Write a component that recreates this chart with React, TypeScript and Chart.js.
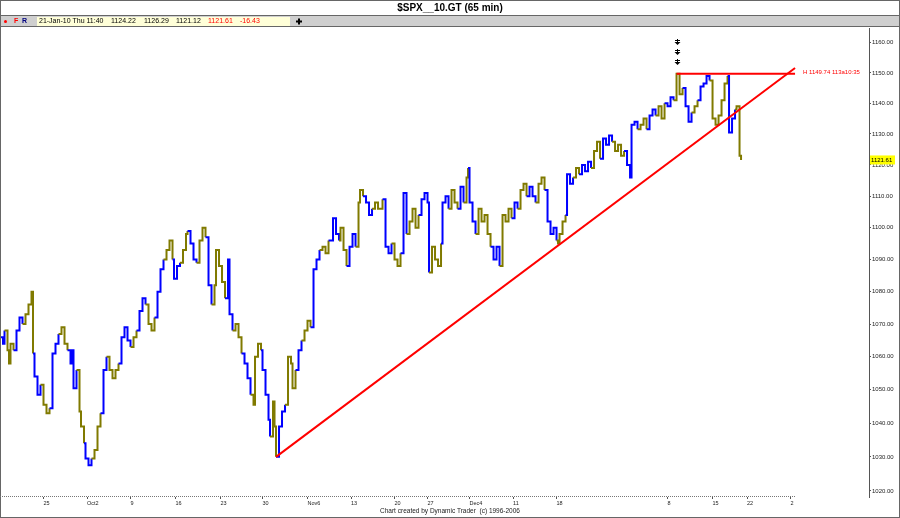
import { useEffect, useRef } from 'react';
import { Chart, registerables } from 'chart.js';
Chart.register(...registerables);

const FONT = '"Liberation Sans", Arial, sans-serif';
const BLUE = '#0000ff';
const OLIVE = '#807a00';
const RED = '#ff0000';

// 65-minute bar index (time) of each sampled close
const bars = [
  0, 2, 3, 5, 6, 7, 9, 11, 13, 15,
  17, 19, 21, 22, 23, 25, 27, 29, 31, 33,
  35, 37, 39, 41, 43, 45, 47, 48, 49, 51,
  53, 54, 56, 57, 59, 61, 63, 65, 67, 69,
  71, 73, 75, 77, 79, 81, 83, 85, 87, 89,
  91, 93, 95, 97, 99, 101, 103, 105, 107, 109,
  111, 113, 115, 116, 118, 120, 122, 124, 125, 127,
  129, 131, 133, 135, 137, 139, 141, 143, 144, 146,
  148, 150, 152, 153, 155, 157, 159, 161, 163, 165,
  167, 169, 170, 172, 174, 175, 177, 179, 180, 182,
  183, 184, 186, 188, 190, 192, 194, 195, 197, 199,
  201, 203, 205, 207, 209, 211, 213, 215, 217, 219,
  222, 224, 226, 227, 229, 231, 233, 235, 237, 239,
  240, 242, 244, 246, 248, 250, 252, 255, 257, 259,
  261, 263, 265, 267, 269, 271, 273, 275, 277, 279,
  281, 283, 285, 286, 288, 290, 292, 294, 295, 297,
  299, 301, 303, 305, 307, 309, 311, 312, 313, 315,
  317, 319, 321, 323, 325, 327, 329, 331, 333, 335,
  337, 339, 341, 343, 345, 347, 349, 351, 353, 355,
  357, 359, 361, 363, 365, 367, 369, 371, 372, 373,
  375, 377, 378, 380, 382, 384, 386, 388, 390, 392,
  394, 396, 398, 400, 402, 404, 406, 408, 410, 412,
  414, 416, 418, 420, 421, 423, 425, 427, 429, 431,
  433, 435, 437, 439, 441, 443, 445, 447, 449, 451,
  453, 455, 457, 459, 461, 463, 465, 467, 469, 471,
  473, 475, 477, 479, 481, 483, 485, 486, 488, 490,
  491, 493, 494,
];

const closes = [
  1066, 1064, 1068, 1062, 1058, 1064, 1062, 1068, 1072, 1070,
  1073, 1076, 1080, 1061, 1054, 1048.5, 1051.5, 1045.5, 1043, 1044.5,
  1061, 1064, 1067, 1069, 1064, 1062, 1058, 1062, 1050.5, 1056,
  1043.5, 1039, 1034, 1029.5, 1027.5, 1029.5, 1032, 1039, 1043, 1056,
  1060, 1056, 1053.5, 1056, 1058, 1066, 1069, 1065, 1063, 1066,
  1068, 1074, 1078, 1076, 1070, 1068, 1072, 1080, 1087, 1090,
  1093, 1096, 1090, 1084, 1088, 1089, 1093, 1098, 1099, 1095,
  1090, 1089, 1096, 1100, 1097, 1082, 1076, 1082, 1093, 1088,
  1083, 1078, 1090, 1073, 1068, 1070, 1066, 1061, 1058, 1053.5,
  1048.5, 1045.5, 1060, 1064, 1062, 1056, 1048.5, 1041, 1036, 1046.5,
  1039, 1030, 1039, 1043.5, 1045.5, 1060, 1058, 1050.5, 1056, 1062,
  1065, 1068, 1071, 1069, 1087, 1090, 1093, 1094, 1092, 1096,
  1103, 1098, 1096, 1100, 1093, 1088, 1094, 1098, 1094, 1108,
  1112, 1110, 1108, 1104, 1106, 1108, 1106, 1109, 1094, 1092,
  1095, 1090, 1088, 1092, 1111, 1098, 1102, 1106, 1100, 1104,
  1109, 1111, 1108, 1086, 1094, 1090, 1088, 1095, 1108, 1110,
  1106, 1112, 1108, 1106, 1113, 1108, 1116, 1119, 1108, 1102,
  1098, 1106, 1102, 1104, 1098, 1094, 1090, 1094, 1088, 1104,
  1102, 1106, 1103, 1108, 1106, 1112, 1114, 1110, 1113, 1110,
  1108, 1114, 1116, 1112, 1102, 1098, 1100, 1096, 1095, 1098,
  1102, 1104, 1117, 1114, 1116, 1119, 1117, 1120, 1118, 1121,
  1119, 1124.5, 1127.5, 1122, 1128.5, 1126.5, 1129.5, 1127.5, 1124.5, 1126.5,
  1123, 1124.5, 1120, 1116, 1133, 1134, 1131.5, 1133, 1135, 1131.5,
  1136, 1138, 1136, 1139, 1135, 1140, 1139, 1142, 1141, 1149.74,
  1143, 1145, 1139, 1134, 1137, 1139, 1141, 1145.5, 1146.5, 1149,
  1147.5, 1135, 1133, 1136, 1141, 1146.5, 1149, 1130.5, 1135, 1138,
  1139, 1123, 1121.61,
];

// swing colour of each bar: B = blue, O = olive
const swing = (
  'BBBOOOOBBB' + 'OOOOBBBOOO' + 'BBBOOOBBBB' + 'OOOBBBOOOB' +
  'BOOOOBBBBO' + 'OBBBOOOBBB' + 'OOOBBBOOOB' + 'BBOOOBBOOO' +
  'OOBBBOOOBB' + 'BOOOOBBBBO' + 'OOBBBOOOOB' + 'BOOOBBBOOO' +
  'BBBOOOBBBO' + 'OOBBBOOOBB' + 'BOOOBBOOOO' + 'BBBBOOOOBB' +
  'BOOOBBOOBB' + 'BOOOOOBBBO' + 'OOOBBOOOBB' + 'BOOOBBBBOO' +
  'OOBBBOOBBB' + 'BOOOBBBBOO' + 'OOBBBBBOOO' + 'BBBOOOBBBO' +
  'OOBBBOOBBB' + 'BOOOOOOBBB' + 'OOO'
).split('');

// trend line (low of Nov 2 to projection) and the horizontal high line
const trendBars = [184, 530];
const trendPrices = [1030, 1151.6];
const highBars = [451, 530];
const highPrices = [1149.74, 1149.74];

const xTickBars = [29, 58, 87, 117, 147, 175, 205, 234, 263, 285, 313, 342, 371, 445, 475, 498, 527];
const xTickLabels = ['25', 'Oct2', '9', '16', '23', '30', 'Nov6', '13', '20', '27', 'Dec4', '11', '18', '8', '15', '22', '2'];
const priceTicks = [1020, 1030, 1040, 1050, 1060, 1070, 1080, 1090, 1100, 1110, 1120, 1130, 1140, 1150, 1160];

const infoDate = '21-Jan-10 Thu 11:40';
const infoOpen = '1124.22';
const infoHigh = '1126.29';
const infoLow = '1121.12';
const infoClose = '1121.61';
const infoChange = '-16.43';
const highLabel = 'H 1149.74 113a10:35';
const titleText = '$SPX__10.GT (65 min)';
const footerText = 'Chart created by Dynamic Trader  (c) 1996-2006';
const axisEndBar = 530;

const decor = {
  id: 'decor',
  beforeDraw(chart: any) {
    const ctx = chart.ctx;
    ctx.save();
    ctx.fillStyle = '#ffffff';
    ctx.fillRect(0, 0, chart.width, chart.height);
    ctx.restore();
  },
  afterDraw(chart: any) {
    const ctx = chart.ctx;
    const xs = chart.scales.x;
    const ys = chart.scales.y;
    const W = chart.width;
    const H = chart.height;
    ctx.save();
    const line = (x1: number, y1: number, x2: number, y2: number) => {
      ctx.beginPath();
      ctx.moveTo(x1, y1);
      ctx.lineTo(x2, y2);
      ctx.stroke();
    };
    // title band + toolbar
    ctx.fillStyle = '#cfcfcf';
    ctx.fillRect(0, 16, W, 11);
    ctx.strokeStyle = '#666';
    ctx.lineWidth = 1;
    line(0, 15.5, W, 15.5);
    line(0, 26.5, W, 26.5);
    ctx.strokeRect(0.5, 0.5, W - 1, H - 1);

    ctx.fillStyle = '#000';
    ctx.font = `bold 10px ${FONT}`;
    ctx.textAlign = 'center';
    ctx.textBaseline = 'middle';
    ctx.fillText(titleText, 450, 8);

    // toolbar
    ctx.fillStyle = RED;
    ctx.beginPath();
    ctx.arc(5.5, 21.5, 1.5, 0, Math.PI * 2);
    ctx.fill();
    ctx.textAlign = 'left';
    ctx.font = `bold 7px ${FONT}`;
    ctx.fillText('F', 14, 21.5);
    ctx.fillStyle = '#000080';
    ctx.fillText('R', 22, 21.5);
    ctx.fillStyle = '#ffffd8';
    ctx.fillRect(37, 17, 253, 9);
    ctx.font = `7px ${FONT}`;
    ctx.fillStyle = '#000';
    ctx.fillText(infoDate, 39, 21.5);
    ctx.fillText(infoOpen, 111, 21.5);
    ctx.fillText(infoHigh, 144, 21.5);
    ctx.fillText(infoLow, 176, 21.5);
    ctx.fillStyle = RED;
    ctx.fillText(infoClose, 208, 21.5);
    ctx.fillText(infoChange, 240, 21.5);
    // cross symbol
    ctx.fillStyle = '#000';
    ctx.fillRect(296, 20.5, 6, 2);
    ctx.fillRect(298, 18.5, 2, 6);

    // dotted x axis line
    const xEnd = xs.getPixelForValue(axisEndBar);
    ctx.strokeStyle = '#777';
    ctx.setLineDash([1, 1]);
    line(chart.chartArea.left, chart.chartArea.bottom - 0.5, xEnd, chart.chartArea.bottom - 0.5);
    ctx.setLineDash([]);

    // arrows above the high
    const hx = Math.round(xs.getPixelForValue(highBars[0]));
    const hy = ys.getPixelForValue(highPrices[0]);
    ctx.strokeStyle = '#000';
    ctx.fillStyle = '#000';
    [32, 22, 12].forEach((d) => {
      const cy = Math.round(hy - d);
      ctx.fillRect(hx, cy - 3, 1, 4);
      ctx.fillRect(hx - 2, cy - 2, 5, 1);
      ctx.beginPath();
      ctx.moveTo(hx - 2.5, cy);
      ctx.lineTo(hx + 3.5, cy);
      ctx.lineTo(hx + 0.5, cy + 3);
      ctx.closePath();
      ctx.fill();
    });

    // high label
    ctx.fillStyle = RED;
    ctx.font = `6px ${FONT}`;
    ctx.textAlign = 'left';
    ctx.fillText(highLabel, xEnd + 8, hy - 1);

    // last price box
    const last = closes[closes.length - 1];
    const ly = ys.getPixelForValue(last);
    ctx.fillStyle = '#ffff00';
    ctx.fillRect(870, ly - 4.5, 25, 9);
    ctx.fillStyle = '#000';
    ctx.fillText(last.toFixed(2), 871, ly);

    // footer
    ctx.fillStyle = '#222';
    ctx.font = `6.5px ${FONT}`;
    ctx.textAlign = 'center';
    ctx.fillText(footerText, 450, 511.5);
    ctx.restore();
  },
};

export default function App() {
  const ref = useRef<HTMLCanvasElement | null>(null);
  useEffect(() => {
    if (!ref.current) return;
    const chart = new Chart(ref.current, {
      type: 'line',
      data: {
        datasets: [
          {
            label: 'trend',
            data: trendBars.map((b, i) => ({ x: b, y: trendPrices[i] })),
            borderColor: RED,
            borderWidth: 2,
            pointRadius: 0,
            order: 0,
          },
          {
            label: 'high',
            data: highBars.map((b, i) => ({ x: b, y: highPrices[i] })),
            borderColor: RED,
            borderWidth: 2,
            pointRadius: 0,
            order: 0,
          },
          {
            label: 'SPX',
            data: bars.map((b, i) => ({ x: b, y: closes[i] })),
            borderColor: OLIVE,
            borderWidth: 2,
            pointRadius: 0,
            stepped: true,
            order: 1,
            segment: {
              borderColor: (c: any) => (swing[c.p1DataIndex] === 'B' ? BLUE : OLIVE),
            },
          },
        ],
      },
      options: {
        animation: false,
        responsive: false,
        devicePixelRatio: 1,
        layout: { padding: { top: 28, left: 0, right: 0, bottom: 0 } },
        plugins: { legend: { display: false }, tooltip: { enabled: false } },
        scales: {
          x: {
            type: 'linear',
            min: 0,
            max: 579.3,
            afterFit: (s: any) => {
              s.height = 21;
            },
            afterBuildTicks: (s: any) => {
              s.ticks = xTickBars.map((v) => ({ value: v }));
            },
            ticks: {
              callback: (_v: any, i: number) => xTickLabels[i],
              align: 'start',
              autoSkip: false,
              maxRotation: 0,
              font: { size: 5.5, family: FONT },
              color: '#222',
              padding: 1,
            },
            grid: { drawOnChartArea: false, tickLength: 2, color: '#555' },
            border: { display: false },
          },
          y: {
            type: 'logarithmic',
            position: 'right',
            min: 1018.2,
            max: 1164.9,
            afterFit: (s: any) => {
              s.width = 31;
            },
            afterBuildTicks: (s: any) => {
              s.ticks = priceTicks.map((v) => ({ value: v }));
            },
            ticks: {
              callback: (v: any) => Number(v).toFixed(2),
              autoSkip: false,
              font: { size: 6, family: FONT },
              color: '#222',
              padding: 1,
            },
            grid: { drawOnChartArea: false, tickLength: 2, color: '#555' },
            border: { display: true, color: '#555' },
          },
        },
      } as any,
      plugins: [decor],
    });
    return () => chart.destroy();
  }, []);
  return (
    <div style={{ position: 'absolute', left: 0, top: 0, width: 900, height: 518 }}>
      <canvas ref={ref} width={900} height={518} style={{ display: 'block' }} />
    </div>
  );
}
